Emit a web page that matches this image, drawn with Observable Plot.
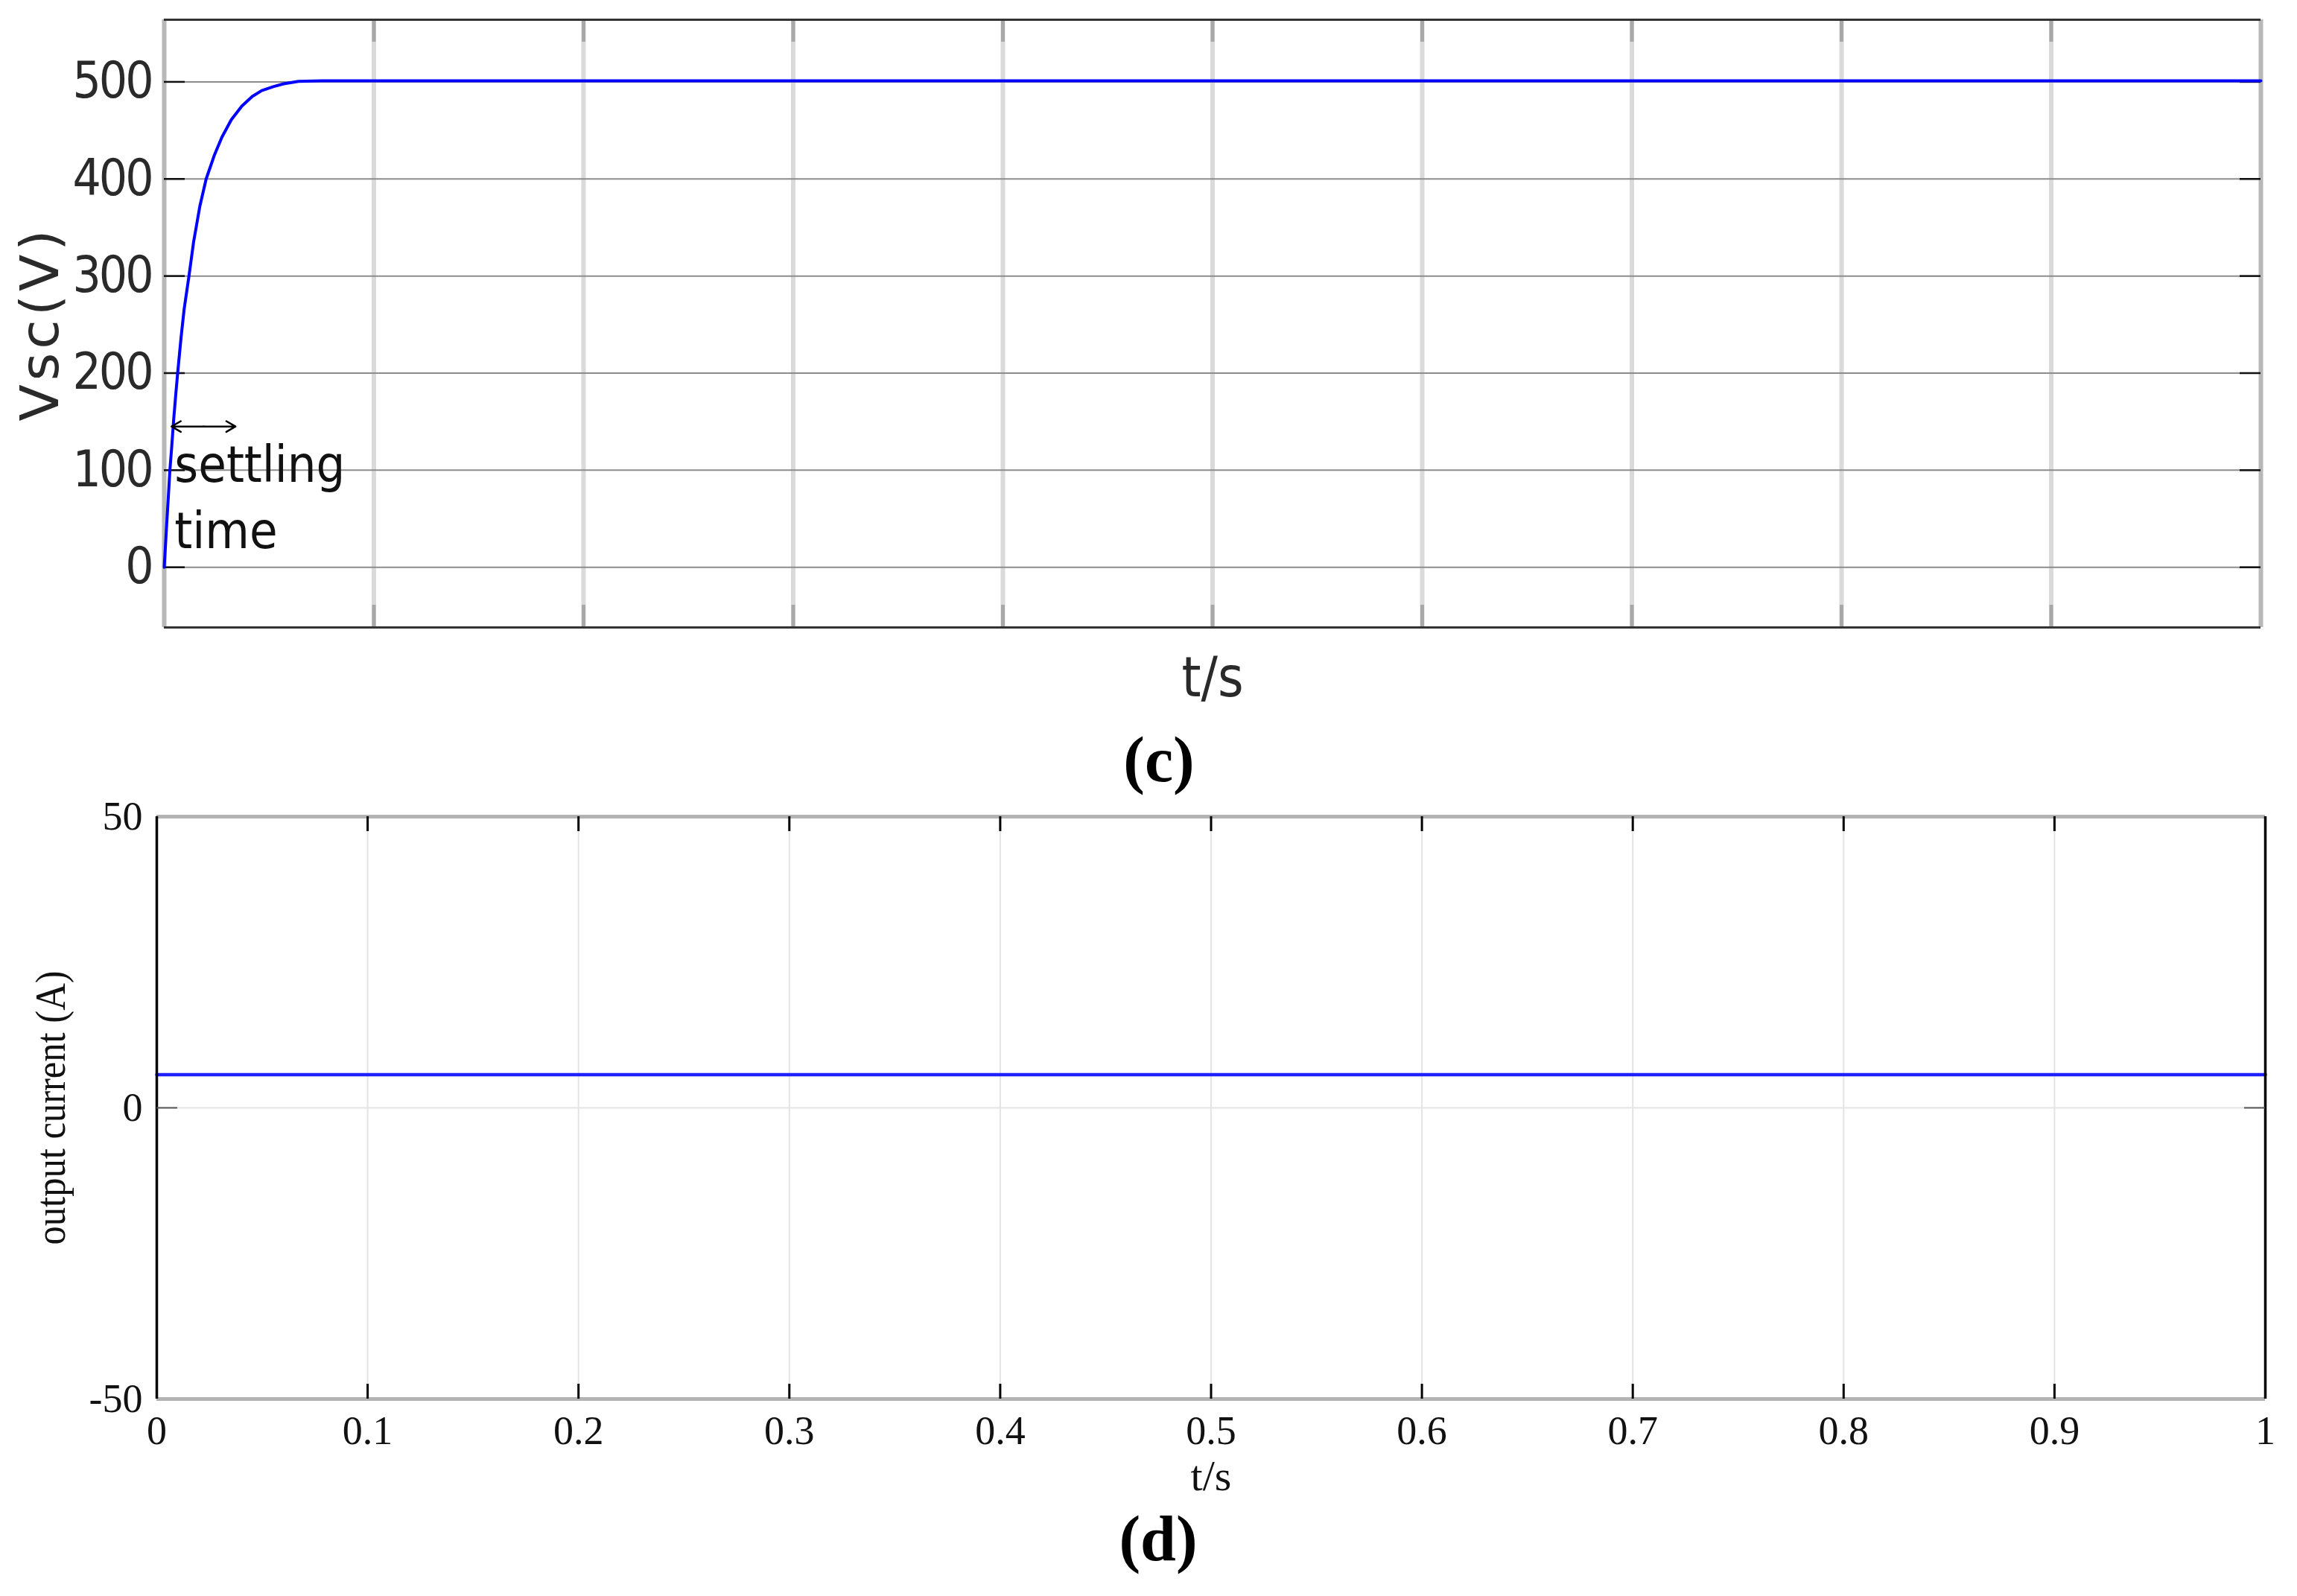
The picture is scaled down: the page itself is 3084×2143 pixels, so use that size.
<!DOCTYPE html>
<html><head><meta charset="utf-8">
<script src="https://cdn.jsdelivr.net/npm/d3@7"></script>
<script src="https://cdn.jsdelivr.net/npm/@observablehq/plot@0.6"></script>
<style>
html,body{margin:0;padding:0;background:#fff;}
#chart{position:relative;width:3084px;height:2143px;overflow:hidden;background:#fff;}
#chart svg{display:block;position:absolute;left:0;}
</style></head><body><div id="chart"></div>
<script>
// ---- panel (c): supercapacitor voltage ----
const vscT = [0, 0.0005, 0.001, 0.0015, 0.002, 0.0027, 0.0035, 0.0045, 0.0055, 0.0064, 0.008, 0.0095, 0.0118, 0.014, 0.017, 0.020, 0.024, 0.0275, 0.032, 0.037, 0.042, 0.0465, 0.052, 0.057, 0.064, 0.075, 0.1, 0.2, 0.3, 0.4, 0.5, 0.6, 0.7, 0.8, 0.9, 1.0];
const vscV = [0, 19, 38, 56, 74, 100, 122, 152, 178, 200, 236, 266, 300, 335, 372, 400, 425, 443, 461, 475, 485, 491, 495, 498, 500.5, 501, 501, 501, 501, 501, 501, 501, 501, 501, 501, 501];
const vscTicks = [0, 100, 200, 300, 400, 500];
const vscDomain = [-62, 564];
const timeTicks = [0, 0.1, 0.2, 0.3, 0.4, 0.5, 0.6, 0.7, 0.8, 0.9, 1];
const settleT = [0.0035, 0.034];
const settleV = 145;
const vscLabel = "Vsc(V)";
const settleLabel = "settling\ntime";
const xLabel = "t/s";
const capC = "(c)";
// ---- panel (d): output current ----
const curT = [0, 1];
const curI = [5.7, 5.7];
const curTicks = [-50, 0, 50];
const curLabel = "output current (A)";
const capD = "(d)";

const W = 3084;
const sans = "'DejaVu Sans Condensed', 'DejaVu Sans', sans-serif";
const serif = "'Liberation Serif', 'Times New Roman', serif";
const edges = d3.extent(timeTicks);
const innerX = timeTicks.filter(d => d > edges[0] && d < edges[1]);

// top panel geometry (svg at page y = 0)
const tM = {top: 26, right: 49, bottom: 238, left: 220};
const tH = 1080;
const tFH = tH - tM.top - tM.bottom;
const tFW = W - tM.left - tM.right;

const vscCurve = vscT.map((t, i) => ({t, v: vscV[i]}));
const mid = (settleT[0] + settleT[1]) / 2;
const arrows = settleT.map(t => ({x1: mid, x2: t, y: settleV}));

const topPlot = Plot.plot({
  width: W, height: tH,
  marginTop: tM.top, marginRight: tM.right, marginBottom: tM.bottom, marginLeft: tM.left,
  x: {domain: edges, axis: null},
  y: {domain: vscDomain, axis: null},
  style: {background: "none", color: "#2a2a2a", fontFamily: sans},
  marks: [
    Plot.ruleX(innerX, {stroke: "#dadada", strokeWidth: 6}),
    Plot.ruleX(innerX, {stroke: "#a8a8a8", strokeWidth: 5, insetBottom: tFH - 30}),
    Plot.ruleX(innerX, {stroke: "#a8a8a8", strokeWidth: 5, insetTop: tFH - 30}),
    Plot.ruleX(edges, {stroke: "#b8b8b8", strokeWidth: 6}),
    Plot.ruleY(vscTicks, {stroke: "#8c8c8c", strokeWidth: 2}),
    Plot.ruleY(vscTicks, {stroke: "#111", strokeWidth: 2.5, insetRight: tFW - 28}),
    Plot.ruleY(vscTicks, {stroke: "#111", strokeWidth: 2.5, insetLeft: tFW - 28}),
    Plot.ruleY(vscDomain, {stroke: "#333", strokeWidth: 3}),
    Plot.line(vscCurve, {x: "t", y: "v", stroke: "#0000ff", strokeWidth: 4}),
    Plot.arrow(arrows, {x1: "x1", x2: "x2", y1: "y", y2: "y", stroke: "#000", strokeWidth: 2.5, headLength: 20, bend: 0}),
    Plot.text([settleLabel], {x: settleT[0], y: settleV, text: d => d, textAnchor: "start", lineAnchor: "top", dx: 4, dy: 12, lineHeight: 1.3, fontSize: 68, fill: "#111"}),
    Plot.axisY(vscTicks, {anchor: "left", tickSize: 0, tickPadding: 17, fontSize: 67, label: null}),
    Plot.text([vscLabel], {frameAnchor: "left", textAnchor: "middle", text: d => d, dx: -166, rotate: -90, fontSize: 72, fontFamily: "'DejaVu Sans', sans-serif"}),
    Plot.text([xLabel], {frameAnchor: "bottom", textAnchor: "middle", text: d => d, dy: 92, fontSize: 74}),
    Plot.text([capC], {frameAnchor: "bottom", textAnchor: "middle", text: d => d, dx: -72, dy: 206, fontSize: 86, fontWeight: "bold", fontFamily: serif, fill: "#000"})
  ]
});

// bottom panel geometry (svg at page y = 1050, frame top at 1096)
const bTop = 1050;
const bM = {top: 46, right: 43, bottom: 265, left: 210};
const bH = 2143 - bTop;
const bFH = bH - bM.top - bM.bottom;
const bFW = W - bM.left - bM.right;
const yEdges = d3.extent(curTicks);
const innerY = curTicks.filter(d => d > yEdges[0] && d < yEdges[1]);
const curLine = curT.map((t, i) => ({t, i: curI[i]}));

const botPlot = Plot.plot({
  width: W, height: bH,
  marginTop: bM.top, marginRight: bM.right, marginBottom: bM.bottom, marginLeft: bM.left,
  x: {domain: edges, axis: null},
  y: {domain: yEdges, axis: null},
  style: {background: "none", color: "#111", fontFamily: serif},
  marks: [
    Plot.ruleX(innerX, {stroke: "#e4e4e4", strokeWidth: 2}),
    Plot.ruleY(innerY, {stroke: "#e4e4e4", strokeWidth: 2}),
    Plot.line(curLine, {x: "t", y: "i", stroke: "#1f1fff", strokeWidth: 4.5}),
    Plot.ruleY(yEdges, {stroke: "#b3b3b3", strokeWidth: 5}),
    Plot.ruleX(edges, {stroke: "#000", strokeWidth: 3.5}),
    Plot.ruleX(innerX, {stroke: "#000", strokeWidth: 3, insetBottom: bFH - 20}),
    Plot.ruleX(innerX, {stroke: "#000", strokeWidth: 3, insetTop: bFH - 20}),
    Plot.ruleY(innerY, {stroke: "#555", strokeWidth: 2, insetRight: bFW - 28}),
    Plot.ruleY(innerY, {stroke: "#555", strokeWidth: 2, insetLeft: bFW - 28}),
    Plot.axisX(timeTicks, {anchor: "bottom", tickSize: 0, tickPadding: 22, fontSize: 54, label: null, tickFormat: d => String(d)}),
    Plot.axisY(curTicks, {anchor: "left", tickSize: 0, tickPadding: 19, fontSize: 54, label: null, tickFormat: d => d < 0 ? "-" + (-d) : String(d)}),
    Plot.text([curLabel], {frameAnchor: "left", textAnchor: "middle", text: d => d, dx: -141, rotate: -90, fontSize: 56}),
    Plot.text([xLabel], {frameAnchor: "bottom", textAnchor: "middle", text: d => d, dy: 122, fontSize: 58}),
    Plot.text([capD], {frameAnchor: "bottom", textAnchor: "middle", text: d => d, dx: -71, dy: 216, fontSize: 86, fontWeight: "bold", fill: "#000"})
  ]
});

const chart = document.getElementById("chart");
topPlot.style.top = "0px";
botPlot.style.top = bTop + "px";
chart.appendChild(topPlot);
chart.appendChild(botPlot);
d3.select(topPlot).selectAll("text").filter(function() { return this.textContent === vscLabel; }).style("letter-spacing", "5px");
d3.select(topPlot).selectAll("g[aria-label='y-axis tick label']").style("letter-spacing", "-3px");
d3.select(botPlot).selectAll("text").filter(function() { return this.textContent === curLabel; })
  .attr("textLength", 368).attr("lengthAdjust", "spacingAndGlyphs");
</script>
</body></html>
